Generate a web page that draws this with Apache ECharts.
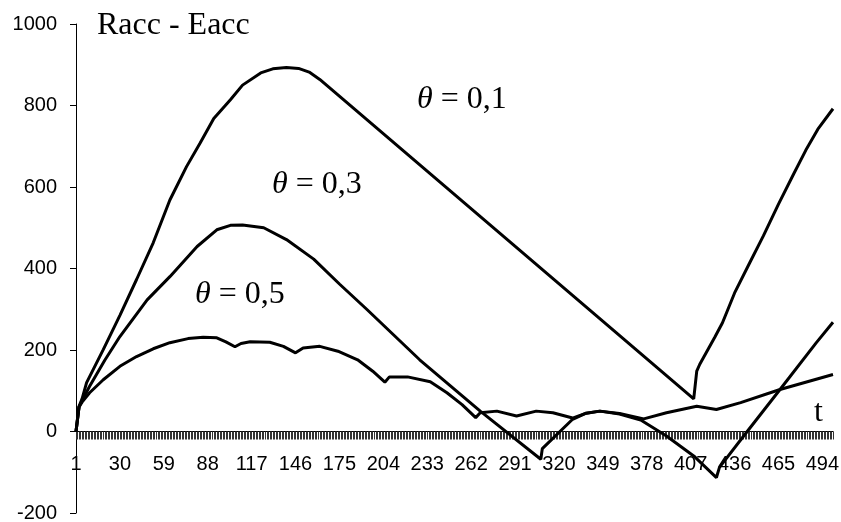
<!DOCTYPE html>
<html>
<head>
<meta charset="utf-8">
<script src="https://cdn.jsdelivr.net/npm/echarts@6/dist/echarts.min.js"></script>
<style>
  html, body { margin: 0; padding: 0; background: #fff; }
  #chart { width: 841px; height: 522px; }
</style>
</head>
<body>
<div id="chart"></div>
<script>
// time steps t = 1..501 (category axis), labels every 29 steps
var tCount = 501;
var categories = [];
for (var i = 1; i <= tCount; i++) categories.push(String(i));

// key points: t and Racc - Eacc
var t01 = [1, 3, 5, 8, 19, 30, 41, 52, 63, 74, 83, 92, 103, 111, 123, 131, 140, 148, 155, 162, 409, 410, 411, 413, 423, 428, 436, 446, 455, 465, 475, 483, 491, 501];
var v01 = [0, 62, 80, 120, 201, 285, 373, 463, 568, 650, 708, 768, 814, 850, 880, 890, 893, 891, 882, 864, 80, 77, 148, 165, 232, 267, 340, 414, 480, 558, 632, 690, 742, 792];

var t03 = [1, 3, 5, 10, 20, 30, 48, 63, 81, 94, 103, 111, 125, 140, 158, 175, 193, 228, 268, 308, 309, 329, 338, 347, 360, 374, 391, 409, 424, 426, 442, 466, 490, 501];
var v03 = [0, 60, 76, 111, 175, 233, 323, 380, 454, 495, 506, 507, 500, 471, 423, 362, 300, 176, 50, -68, -42, 30, 45, 50, 43, 28, -11, -60, -113, -88, -11, 103, 218, 268];

var t05 = [1, 3, 5, 10, 19, 30, 41, 52, 63, 75, 85, 94, 100, 106, 110, 116, 129, 138, 146, 151, 162, 174, 187, 197, 205, 208, 220, 235, 246, 256, 265, 268, 279, 292, 305, 316, 329, 338, 347, 360, 376, 391, 411, 424, 440, 466, 501];
var v05 = [0, 60, 72, 95, 127, 160, 184, 203, 218, 228, 231, 230, 220, 208, 216, 220, 219, 209, 193, 205, 209, 197, 176, 148, 121, 134, 134, 122, 95, 66, 34, 46, 50, 38, 50, 46, 33, 45, 50, 44, 31, 46, 62, 54, 71, 103, 140];

function pairs(ts, vs) {
    var out = [];
    for (var k = 0; k < ts.length; k++) out.push([ts[k] - 1, vs[k]]);
    return out;
}

var sans = 'Liberation Sans, Arial, sans-serif';
var serif = 'Liberation Serif, Times New Roman, serif';

// plot area: 1000 at y=24, -200 at y=513; x axis sits on the zero line
var gridTop = 24, gridBottom = 9;
var plotH = 522 - gridTop - gridBottom;
var zeroShift = -plotH * 200 / 1200;

function thetaLabel(txt, x, y) {
    return {
        type: 'text', left: x, top: y,
        style: {
            text: '{i|θ} = ' + txt,
            font: '32px ' + serif,
            fill: '#000',
            rich: { i: { fontStyle: 'italic', fontFamily: serif, fontSize: 32 } }
        }
    };
}

var lineSeries = function (name, data) {
    return {
        name: name,
        type: 'line',
        data: data,
        showSymbol: false,
        smooth: false,
        lineStyle: { color: '#000', width: 3 },
        itemStyle: { color: '#000' }
    };
};

var myChart = echarts.init(document.getElementById('chart'));
var option = {
    animation: false,
    backgroundColor: '#fff',
    grid: { left: 76, right: 8, top: gridTop, bottom: gridBottom, containLabel: false, outerBoundsMode: 'none' },
    xAxis: {
        type: 'category',
        data: categories,
        boundaryGap: false,
        position: 'bottom',
        offset: zeroShift,
        axisLine: { onZero: false, lineStyle: { color: '#000', width: 1 } },
        axisTick: { show: true, interval: 0, length: 8, lineStyle: { color: '#333', width: 1 } },
        axisLabel: { interval: 28, fontSize: 20, fontFamily: sans, color: '#000', margin: 23 },
        splitLine: { show: false }
    },
    yAxis: {
        type: 'value',
        min: -200,
        max: 1000,
        interval: 200,
        axisLine: { show: true, lineStyle: { color: '#000', width: 1 } },
        axisTick: { show: true, length: 6, lineStyle: { color: '#000' } },
        axisLabel: {
            fontSize: 20, fontFamily: sans, color: '#000', margin: 19,
            formatter: function (v) { return String(v); }
        },
        splitLine: { show: false }
    },
    graphic: [
        { type: 'text', left: 97, top: 10, style: { text: 'Racc - Eacc', font: '32px ' + serif, fill: '#000' } },
        thetaLabel('0,1', 417, 84),
        thetaLabel('0,3', 272, 169),
        thetaLabel('0,5', 195, 279),
        { type: 'text', left: 814, top: 397, style: { text: 't', font: '32px ' + serif, fill: '#000' } }
    ],
    series: [
        lineSeries('θ = 0,1', pairs(t01, v01)),
        lineSeries('θ = 0,3', pairs(t03, v03)),
        lineSeries('θ = 0,5', pairs(t05, v05))
    ]
};
myChart.setOption(option);
window.onresize = myChart.resize;
</script>
</body>
</html>
